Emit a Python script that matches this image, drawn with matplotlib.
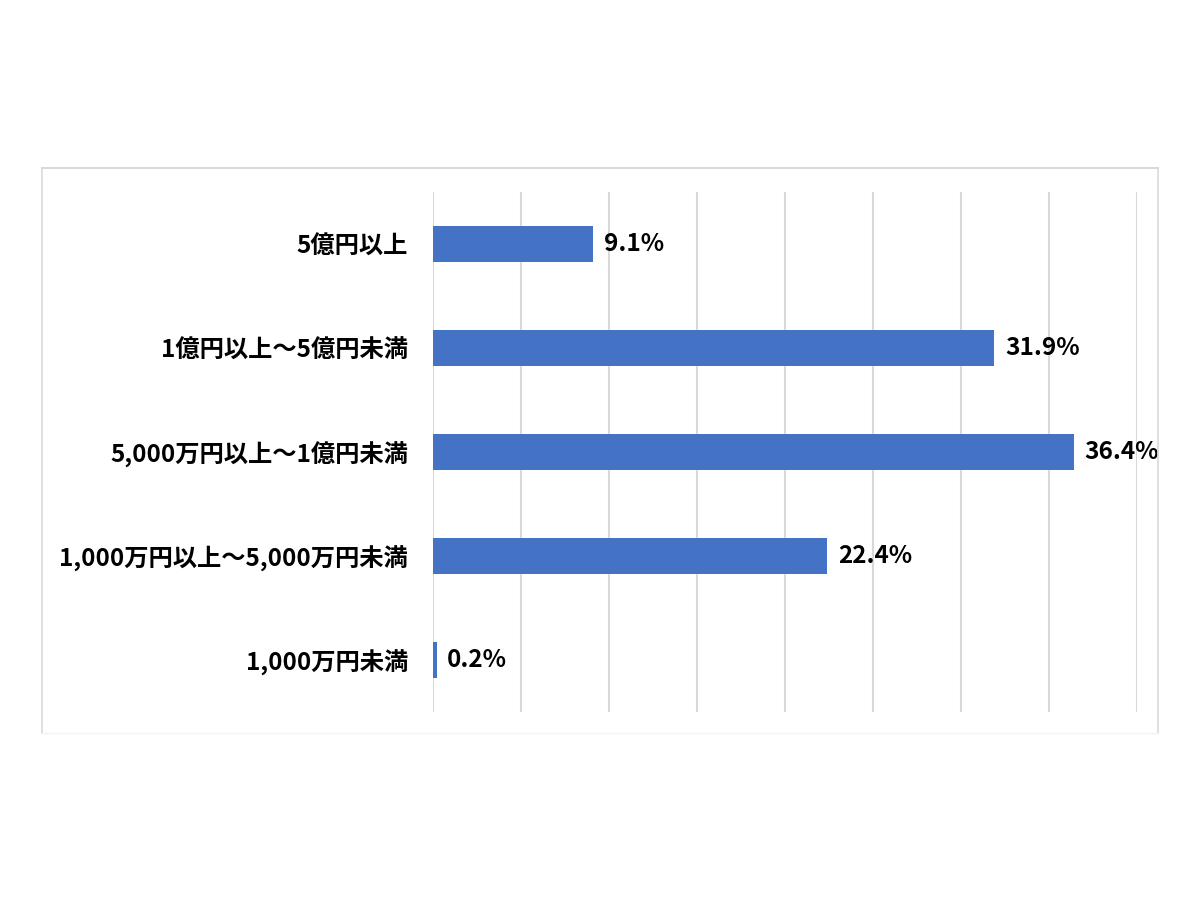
import matplotlib.pyplot as plt
from matplotlib.lines import Line2D

plt.rcParams['font.family'] = ['Noto Sans CJK JP', 'DejaVu Sans']

categories = ['5億円以上', '1億円以上～5億円未満', '5,000万円以上～1億円未満',
              '1,000万円以上～5,000万円未満', '1,000万円未満']
values = [9.1, 31.9, 36.4, 22.4, 0.2]
xticks = [0, 5, 10, 15, 20, 25, 30, 35, 40]

barColor = '#4472C4'
gridColor = '#d9d9d9'
labelSize = 17.5

fig = plt.figure(figsize=(12, 9), dpi=100)
ax = fig.add_axes([433 / 1200, 1 - 712 / 900, (1137 - 433) / 1200, (712 - 192) / 900])

ypos = list(range(len(categories)))
ax.barh(ypos, values, height=0.35, color=barColor, zorder=3)
for y, v in zip(ypos, values):
    ax.text(v + 0.6, y, f'{v:.1f}%', va='center', ha='left',
            fontsize=labelSize, fontweight='bold', color='black')

ax.set_xlim(0, 40)
ax.set_ylim(len(categories) - 0.5, -0.5)
ax.set_xticks(xticks)
ax.set_xticklabels([])
ax.set_yticks(ypos)
ax.set_yticklabels(categories, fontsize=labelSize, fontweight='bold')
ax.tick_params(axis='both', length=0)
ax.tick_params(axis='y', pad=18)
ax.grid(axis='x', color=gridColor, linewidth=1.5, zorder=0)
for s in ax.spines.values():
    s.set_visible(False)

# chart frame
x0, x1 = 42 / 1200, 1158 / 1200
y0, y1 = 1 - 733 / 900, 1 - 168 / 900
fig.add_artist(Line2D([x0, x1], [y1, y1], color=gridColor, lw=1.5, transform=fig.transFigure))
fig.add_artist(Line2D([x0, x0], [y0, y1], color=gridColor, lw=1.2, transform=fig.transFigure))
fig.add_artist(Line2D([x1, x1], [y0, y1], color=gridColor, lw=1.2, transform=fig.transFigure))
fig.add_artist(Line2D([x0, x1], [y0, y0], color='#f2f2f2', lw=1.0, transform=fig.transFigure))

fig.savefig('out.png', dpi=100)
